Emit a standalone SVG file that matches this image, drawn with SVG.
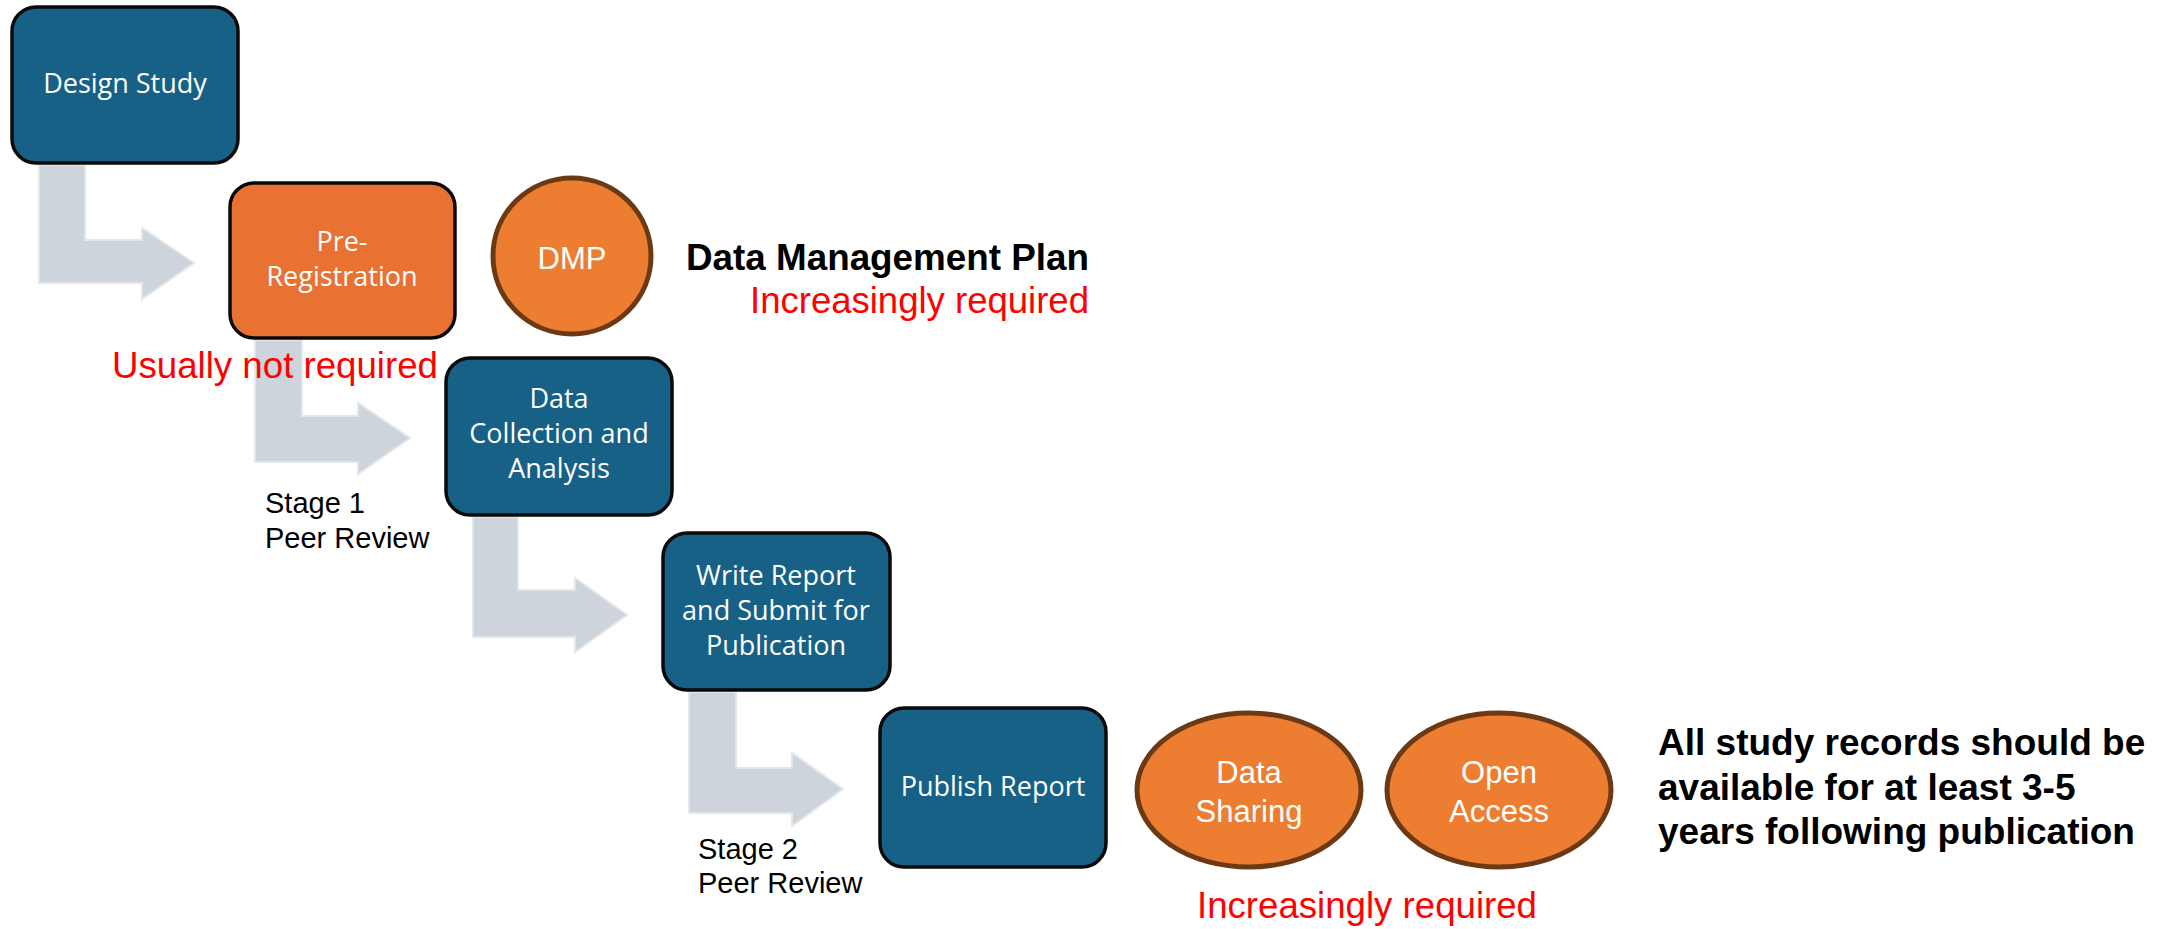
<svg xmlns="http://www.w3.org/2000/svg" width="2177" height="929" viewBox="0 0 2177 929">
  <style>
    .step { fill: #176186; stroke: #0a0a0a; stroke-width: 3.5; }
    .step-opt { fill: #E97132; stroke: #0a0a0a; stroke-width: 3.5; }
    .bubble { fill: #ED7D31; stroke: #6B3A14; stroke-width: 5; }
    .flow { fill: #CDD4DB; stroke: #E4E7EA; stroke-width: 2; stroke-linejoin: miter; }
    .box-label { font-family: "Open Sans", "Noto Sans", sans-serif; font-size: 27px; fill: #ffffff; text-anchor: middle; }
    .bubble-label { font-family: "Liberation Sans", Arial, sans-serif; font-size: 31px; fill: #ffffff; text-anchor: middle; }
    .note { font-family: "Liberation Sans", Arial, sans-serif; font-size: 29px; fill: #000000; }
    .req { font-family: "Liberation Sans", Arial, sans-serif; font-size: 36px; fill: #FF0000; }
    .heading { font-family: "Liberation Sans", Arial, sans-serif; font-size: 37px; font-weight: bold; fill: #000000; }
  </style>

  <!-- bent flow arrows between consecutive steps -->
  <g id="connectors">
    <polygon class="flow" points="39,165 85,165 85,240 142,240 142,228 194,263 142,299 142,283 39,283"/>
    <polygon class="flow" points="255,340 302,340 302,416 358,416 358,403 410,438 358,474 358,462 255,462"/>
    <polygon class="flow" points="473,517 518,517 518,590 575,590 575,578 627,615 575,652 575,637 473,637"/>
    <polygon class="flow" points="689,692 736,692 736,768 792,768 792,753 843,789 792,826 792,813 689,813"/>
  </g>

  <g id="design-study">
    <rect class="step" x="12" y="7" width="226" height="156" rx="24"/>
    <text class="box-label" x="125" y="93">Design Study</text>
  </g>

  <g id="pre-registration">
    <rect class="step-opt" x="230" y="183" width="225" height="155" rx="24"/>
    <text class="box-label" x="342" y="251">Pre-</text>
    <text class="box-label" x="342" y="286">Registration</text>
  </g>

  <g id="dmp">
    <ellipse class="bubble" cx="572" cy="256" rx="79" ry="78"/>
    <text class="bubble-label" x="572" y="269">DMP</text>
  </g>

  <g id="dmp-note">
    <text class="heading" x="1089" y="270" text-anchor="end" textLength="403" lengthAdjust="spacingAndGlyphs">Data Management Plan</text>
    <text class="req" x="1089" y="313" text-anchor="end" textLength="339" lengthAdjust="spacingAndGlyphs">Increasingly required</text>
  </g>

  <g id="data-collection">
    <rect class="step" x="446" y="358" width="226" height="157" rx="24"/>
    <text class="box-label" x="559" y="408">Data</text>
    <text class="box-label" x="559" y="443">Collection and</text>
    <text class="box-label" x="559" y="478">Analysis</text>
  </g>

  <g id="pre-registration-note">
    <text class="req" x="112" y="378" textLength="326" lengthAdjust="spacingAndGlyphs">Usually not required</text>
  </g>

  <g id="stage-1">
    <text class="note" x="265" y="513">Stage 1</text>
    <text class="note" x="265" y="548">Peer Review</text>
  </g>

  <g id="write-report">
    <rect class="step" x="663" y="533" width="227" height="157" rx="24"/>
    <text class="box-label" x="776" y="585">Write Report</text>
    <text class="box-label" x="776" y="620">and Submit for</text>
    <text class="box-label" x="776" y="655">Publication</text>
  </g>

  <g id="stage-2">
    <text class="note" x="698" y="859">Stage 2</text>
    <text class="note" x="698" y="893">Peer Review</text>
  </g>

  <g id="publish-report">
    <rect class="step" x="880" y="708" width="226" height="159" rx="24"/>
    <text class="box-label" x="993" y="796">Publish Report</text>
  </g>

  <g id="data-sharing">
    <ellipse class="bubble" cx="1249" cy="790" rx="112" ry="77"/>
    <text class="bubble-label" x="1249" y="783">Data</text>
    <text class="bubble-label" x="1249" y="822">Sharing</text>
  </g>

  <g id="open-access">
    <ellipse class="bubble" cx="1499" cy="790" rx="112" ry="77"/>
    <text class="bubble-label" x="1499" y="783">Open</text>
    <text class="bubble-label" x="1499" y="822">Access</text>
  </g>

  <g id="sharing-note">
    <text class="req" x="1197" y="918" textLength="340" lengthAdjust="spacingAndGlyphs">Increasingly required</text>
  </g>

  <g id="retention-note">
    <text class="heading" x="1658" y="755">All study records should be</text>
    <text class="heading" x="1658" y="800">available for at least 3-5</text>
    <text class="heading" x="1658" y="844">years following publication</text>
  </g>
</svg>
